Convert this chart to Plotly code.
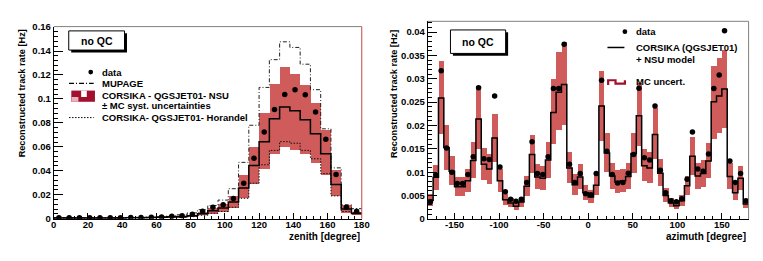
import plotly.graph_objects as go

W, H = 763, 261
BIN = 6  # bin width in degrees (both panels)

# ---------------- left panel: zenith ----------------
zen_centres = [3, 9, 15, 21, 27, 33, 39, 45, 51, 57, 63, 69, 75, 81, 87,
               93, 99, 105, 111, 117, 123, 129, 135, 141, 147, 153, 159, 165, 171, 177]
zen_data = [0.0008, 0.0008, 0.0008, 0.0008, 0.0008, 0.0008, 0.0008, 0.0009, 0.0010, 0.0011,
            0.0013, 0.0019, 0.0024, 0.0037, 0.0061, 0.0096, 0.0117, 0.0168, 0.0296, 0.0504,
            0.0723, 0.0912, 0.1037, 0.1077, 0.1035, 0.0890, 0.0664, 0.0368, 0.0096, 0.0061]
zen_nsu = [0.0005, 0.0005, 0.0005, 0.0005, 0.0006, 0.0006, 0.0006, 0.0007, 0.0008, 0.0009,
           0.0012, 0.0015, 0.0018, 0.0025, 0.0040, 0.0065, 0.0088, 0.0140, 0.0255, 0.0443,
           0.0643, 0.0835, 0.0932, 0.0902, 0.0826, 0.0710, 0.0542, 0.0285, 0.0080, 0.0043]
zen_syst_up = [0.0007, 0.0007, 0.0007, 0.0007, 0.0008, 0.0008, 0.0008, 0.0009, 0.0011, 0.0012,
               0.0016, 0.0020, 0.0024, 0.0034, 0.0054, 0.0088, 0.0119, 0.0190, 0.0360, 0.0600,
               0.0880, 0.1128, 0.1264, 0.1210, 0.1115, 0.0968, 0.0736, 0.0403, 0.0110, 0.0058]
zen_syst_lo = [0.0003, 0.0003, 0.0003, 0.0003, 0.0004, 0.0004, 0.0004, 0.0005, 0.0005, 0.0006,
               0.0008, 0.0010, 0.0012, 0.0016, 0.0026, 0.0042, 0.0057, 0.0092, 0.0170, 0.0290,
               0.0416, 0.0536, 0.0600, 0.0576, 0.0536, 0.0464, 0.0360, 0.0190, 0.0045, 0.0030]
zen_mupage = [0.0008, 0.0008, 0.0008, 0.0008, 0.0008, 0.0009, 0.0009, 0.0010, 0.0011, 0.0013,
              0.0018, 0.0024, 0.0032, 0.0048, 0.0075, 0.0110, 0.0155, 0.0250, 0.0470, 0.0780,
              0.1096, 0.1328, 0.1477, 0.1430, 0.1290, 0.1077, 0.0750, 0.0424, 0.0115, 0.0083]
zen_horandel = [0.0003, 0.0003, 0.0003, 0.0003, 0.0004, 0.0004, 0.0004, 0.0005, 0.0005, 0.0006,
                0.0008, 0.0010, 0.0012, 0.0017, 0.0028, 0.0045, 0.0060, 0.0095, 0.0170, 0.0296,
                0.0450, 0.0570, 0.0643, 0.0630, 0.0570, 0.0500, 0.0376, 0.0190, 0.0060, 0.0050]

zen_xticks = [0, 20, 40, 60, 80, 100, 120, 140, 160, 180]
zen_xticklabels = ["0", "20", "40", "60", "80", "100", "120", "140", "160", "180"]
zen_yticks = [0, 0.02, 0.04, 0.06, 0.08, 0.10, 0.12, 0.14, 0.16]
zen_yticklabels = ["0", "0.02", "0.04", "0.06", "0.08", "0.1", "0.12", "0.14", "0.16"]

# ---------------- right panel: azimuth ----------------
az_centres = list(range(-177, 180, BIN))
az_data = [0.0037, 0.0094, 0.0317, 0.0152, 0.0100, 0.0076, 0.0076, 0.0095, 0.0133, 0.0281,
           0.0129, 0.0127, 0.0263, 0.0111, 0.0058, 0.0042, 0.0038, 0.0042, 0.0078, 0.0165,
           0.0097, 0.0095, 0.0133, 0.0279, 0.0279, 0.0374, 0.0117, 0.0078, 0.0097, 0.0054,
           0.0052, 0.0097, 0.0297, 0.0145, 0.0095, 0.0077, 0.0078, 0.0098, 0.0138, 0.0280,
           0.0131, 0.0126, 0.0242, 0.0104, 0.0056, 0.0039, 0.0037, 0.0043, 0.0085, 0.0186,
           0.0107, 0.0102, 0.0139, 0.0279, 0.0308, 0.0403, 0.0124, 0.0078, 0.0097, 0.0039]
az_corsika = [0.0040, 0.0089, 0.0259, 0.0153, 0.0102, 0.0069, 0.0069, 0.0082, 0.0125, 0.0214,
              0.0117, 0.0107, 0.0173, 0.0082, 0.0041, 0.0034, 0.0027, 0.0036, 0.0070, 0.0138,
              0.0090, 0.0087, 0.0126, 0.0228, 0.0271, 0.0288, 0.0109, 0.0073, 0.0090, 0.0056,
              0.0047, 0.0072, 0.0242, 0.0141, 0.0092, 0.0079, 0.0082, 0.0091, 0.0140, 0.0221,
              0.0114, 0.0109, 0.0181, 0.0098, 0.0050, 0.0034, 0.0028, 0.0039, 0.0071, 0.0134,
              0.0092, 0.0097, 0.0124, 0.0251, 0.0263, 0.0278, 0.0091, 0.0056, 0.0087, 0.0032]
az_mc_up = [0.0052, 0.0115, 0.0337, 0.0201, 0.0133, 0.0090, 0.0090, 0.0107, 0.0163, 0.0283,
            0.0152, 0.0139, 0.0225, 0.0107, 0.0053, 0.0044, 0.0036, 0.0047, 0.0091, 0.0179,
            0.0117, 0.0113, 0.0164, 0.0298, 0.0357, 0.0378, 0.0142, 0.0095, 0.0117, 0.0073,
            0.0061, 0.0094, 0.0316, 0.0183, 0.0120, 0.0103, 0.0107, 0.0118, 0.0183, 0.0290,
            0.0148, 0.0142, 0.0237, 0.0127, 0.0065, 0.0044, 0.0036, 0.0051, 0.0092, 0.0175,
            0.0120, 0.0126, 0.0161, 0.0326, 0.0343, 0.0362, 0.0118, 0.0073, 0.0113, 0.0042]
az_mc_lo = [0.0028, 0.0062, 0.0182, 0.0104, 0.0071, 0.0048, 0.0048, 0.0057, 0.0088, 0.0148,
            0.0082, 0.0075, 0.0121, 0.0057, 0.0029, 0.0024, 0.0019, 0.0025, 0.0049, 0.0097,
            0.0063, 0.0061, 0.0088, 0.0160, 0.0190, 0.0201, 0.0076, 0.0051, 0.0063, 0.0039,
            0.0033, 0.0050, 0.0167, 0.0099, 0.0064, 0.0055, 0.0057, 0.0064, 0.0098, 0.0155,
            0.0080, 0.0076, 0.0127, 0.0069, 0.0035, 0.0024, 0.0020, 0.0027, 0.0050, 0.0093,
            0.0064, 0.0068, 0.0087, 0.0170, 0.0184, 0.0195, 0.0064, 0.0039, 0.0061, 0.0022]

az_xticks = [-150, -100, -50, 0, 50, 100, 150]
az_xticklabels = ["-150", "-100", "-50", "0", "50", "100", "150"]
az_yticks = [0, 0.005, 0.01, 0.015, 0.02, 0.025, 0.03, 0.035, 0.04]
az_yticklabels = ["0", "0.005", "0.01", "0.015", "0.02", "0.025", "0.03", "0.035", "0.04"]

# ---------------- styling ----------------
FONT = "Liberation Sans, Arial, Helvetica, sans-serif"
BAND = "#CF5B5B"
DARKRED = "#A3102E"


def steps(centres, vals):
    xs = [c - BIN / 2 for c in centres] + [centres[-1] + BIN / 2]
    ys = list(vals) + [vals[-1]]
    return xs, ys


def px(x):
    return x / W


def py(y):
    return 1 - y / H


fig = go.Figure()

# ---- left panel traces ----
fig.add_trace(go.Bar(x=zen_centres, y=[u - l for u, l in zip(zen_syst_up, zen_syst_lo)],
                     base=zen_syst_lo, width=BIN, marker=dict(color=BAND, line=dict(width=0)),
                     xaxis="x", yaxis="y", showlegend=False))
xs, ys = steps(zen_centres, zen_mupage)
fig.add_trace(go.Scatter(x=xs, y=ys, mode="lines", line=dict(shape="hv", color="#222", width=1,
                         dash="4px,2px,1px,2px"), xaxis="x", yaxis="y", showlegend=False))
xs, ys = steps(zen_centres, zen_horandel)
fig.add_trace(go.Scatter(x=xs, y=ys, mode="lines", line=dict(shape="hv", color="#111", width=1,
                         dash="1.5px,1.5px"), xaxis="x", yaxis="y", showlegend=False))
xs, ys = steps(zen_centres, zen_nsu)
fig.add_trace(go.Scatter(x=xs, y=ys, mode="lines", line=dict(shape="hv", color="black", width=1.5),
                         xaxis="x", yaxis="y", showlegend=False))
fig.add_trace(go.Scatter(x=zen_centres, y=zen_data, mode="markers",
                         marker=dict(color="black", size=5.5), xaxis="x", yaxis="y", showlegend=False))

# ---- right panel traces ----
fig.add_trace(go.Bar(x=az_centres, y=[u - l for u, l in zip(az_mc_up, az_mc_lo)],
                     base=az_mc_lo, width=BIN, marker=dict(color=BAND, line=dict(width=0)),
                     xaxis="x2", yaxis="y2", showlegend=False))
xs, ys = steps(az_centres, az_corsika)
fig.add_trace(go.Scatter(x=xs, y=ys, mode="lines", line=dict(shape="hv", color="black", width=1.5),
                         xaxis="x2", yaxis="y2", showlegend=False))
fig.add_trace(go.Scatter(x=az_centres, y=az_data, mode="markers",
                         marker=dict(color="black", size=5.5), xaxis="x2", yaxis="y2", showlegend=False))

tickfont = dict(family=FONT, size=9.5, color="black", weight="bold")

axis_common = dict(showline=True, linecolor="black", linewidth=1, ticks="inside",
                   tickcolor="black", tickwidth=1, showgrid=False, zeroline=False,
                   mirror=False, tickfont=tickfont, fixedrange=True)

fig.update_layout(
    width=W, height=H, margin=dict(l=0, r=0, t=0, b=0),
    paper_bgcolor="white", plot_bgcolor="white", bargap=0, barmode="overlay",
    font=dict(family=FONT, color="black"),
    xaxis=dict(domain=[px(51.5), px(364)], range=[0, 180], anchor="y",
               tickvals=zen_xticks, ticktext=zen_xticklabels, ticklen=6, ticklabelstandoff=-3,
               minor=dict(ticks="inside", ticklen=3, dtick=4, tick0=0, tickcolor="black"),
               **axis_common),
    yaxis=dict(domain=[py(222), py(22)], range=[0, 0.16], anchor="x",
               tickvals=zen_yticks, ticktext=zen_yticklabels, ticklen=9,
               minor=dict(ticks="inside", ticklen=4.5, dtick=0.004, tick0=0, tickcolor="black"),
               **axis_common),
    xaxis2=dict(domain=[px(431), px(756.5)], range=[-180, 180], anchor="y2",
                tickvals=az_xticks, ticktext=az_xticklabels, ticklen=6, ticklabelstandoff=-3,
                minor=dict(ticks="inside", ticklen=3, dtick=10, tick0=0, tickcolor="black"),
                **axis_common),
    yaxis2=dict(domain=[py(222.3), py(16)], range=[0, 0.0423], anchor="x2",
                tickvals=az_yticks, ticktext=az_yticklabels, ticklen=9.5,
                minor=dict(ticks="inside", ticklen=4.5, dtick=0.001, tick0=0, tickcolor="black"),
                **axis_common),
)

shapes = []
# frames (top/right edges)
shapes.append(dict(type="line", xref="paper", yref="paper", x0=px(51.5), x1=px(364), y0=py(21.5), y1=py(21.5),
                   line=dict(color="#808080", width=1)))
shapes.append(dict(type="line", xref="paper", yref="paper", x0=px(364), x1=px(364), y0=py(21.5), y1=py(222),
                   line=dict(color="#C04848", width=1)))
shapes.append(dict(type="line", xref="paper", yref="paper", x0=px(431), x1=px(756.5), y0=py(16), y1=py(16),
                   line=dict(color="#808080", width=1)))
shapes.append(dict(type="line", xref="paper", yref="paper", x0=px(756.5), x1=px(756.5), y0=py(16), y1=py(222.3),
                   line=dict(color="#808080", width=1)))

# "no QC" boxes with shadow
for (x0, y0, x1, y1) in [(66.7, 26, 123.3, 46), (454, 25, 510, 49.5)]:
    shapes.append(dict(type="rect", xref="paper", yref="paper", x0=px(x0 + 2.5), x1=px(x1 + 2.5),
                       y0=py(y0 + 2.5), y1=py(y1 + 2.5), fillcolor="black", line=dict(width=0)))
    shapes.append(dict(type="rect", xref="paper", yref="paper", x0=px(x0), x1=px(x1),
                       y0=py(y0), y1=py(y1), fillcolor="white", line=dict(color="black", width=1)))

# left legend symbols
shapes.append(dict(type="circle", xref="paper", yref="paper", x0=px(86.6), x1=px(91.4), y0=py(66.6), y1=py(71.4),
                   fillcolor="black", line=dict(width=0)))
shapes.append(dict(type="line", xref="paper", yref="paper", x0=px(67), x1=px(92), y0=py(80.7), y1=py(80.7),
                   line=dict(color="black", width=1.2, dash="5px,2px,1px,2px")))
shapes.append(dict(type="rect", xref="paper", yref="paper", x0=px(69.3), x1=px(93.3), y0=py(88.3), y1=py(100),
                   fillcolor=DARKRED, line=dict(width=0)))
shapes.append(dict(type="rect", xref="paper", yref="paper", x0=px(79.3), x1=px(85), y0=py(88.3), y1=py(95),
                   fillcolor="white", line=dict(width=0)))
shapes.append(dict(type="rect", xref="paper", yref="paper", x0=px(69.5), x1=px(76.5), y0=py(95), y1=py(100),
                   fillcolor="#E6B4BC", line=dict(width=0)))
shapes.append(dict(type="line", xref="paper", yref="paper", x0=px(67), x1=px(92), y0=py(116.5), y1=py(116.5),
                   line=dict(color="black", width=1, dash="1.5px,1.5px")))

# right legend symbols
shapes.append(dict(type="circle", xref="paper", yref="paper", x0=px(628.6), x1=px(633.4), y0=py(24.4), y1=py(29.2),
                   fillcolor="black", line=dict(width=0)))
shapes.append(dict(type="line", xref="paper", yref="paper", x0=px(613.3), x1=px(630.5), y0=py(43.3), y1=py(43.3),
                   line=dict(color="black", width=1.5)))
path = "M {} {} L {} {} L {} {} L {} {} L {} {} L {} {}".format(
    px(614), py(82.5), px(614), py(77.5), px(621.5), py(77.5), px(621.5), py(81),
    px(631), py(81), px(631), py(77.5))
shapes.append(dict(type="path", xref="paper", yref="paper", path=path,
                   line=dict(color=DARKRED, width=2.2)))

annots = []


def label(x, y, text, size=9.5, xanchor="left", angle=0):
    annots.append(dict(xref="paper", yref="paper", x=px(x), y=py(y), text=text, showarrow=False,
                       xanchor=xanchor, yanchor="middle", textangle=angle,
                       font=dict(family=FONT, size=size, color="black", weight="bold")))


label(95, 36.5, "no QC", size=10.5, xanchor="center")
label(482, 37.5, "no QC", size=10.5, xanchor="center")
label(98, 69, "data")
label(98, 81, "MUPAGE")
label(98, 93, "CORSIKA - QGSJET01- NSU")
label(98, 104.3, "± MC syst. uncertainties")
label(98, 116.7, "CORSIKA- QGSJET01- Horandel")
label(640.7, 26.8, "data")
label(640.7, 43.3, "CORSIKA (QGSJET01)")
label(640.7, 56.3, "+ NSU model")
label(640.7, 79.3, "MC uncert.")
label(364, 241, "zenith [degree]", size=10, xanchor="right")
label(756, 241, "azimuth [degree]", size=10, xanchor="right")
label(19, 91.5, "Reconstructed track rate [Hz]", size=9.2, xanchor="center", angle=-90)
label(396, 91.5, "Reconstructed track rate [Hz]", size=9.2, xanchor="center", angle=-90)

fig.update_layout(shapes=shapes, annotations=annots)
fig.write_html("out.html", config={"displayModeBar": False},
               post_script="document.body.style.margin='0';document.body.style.overflow='hidden';")
